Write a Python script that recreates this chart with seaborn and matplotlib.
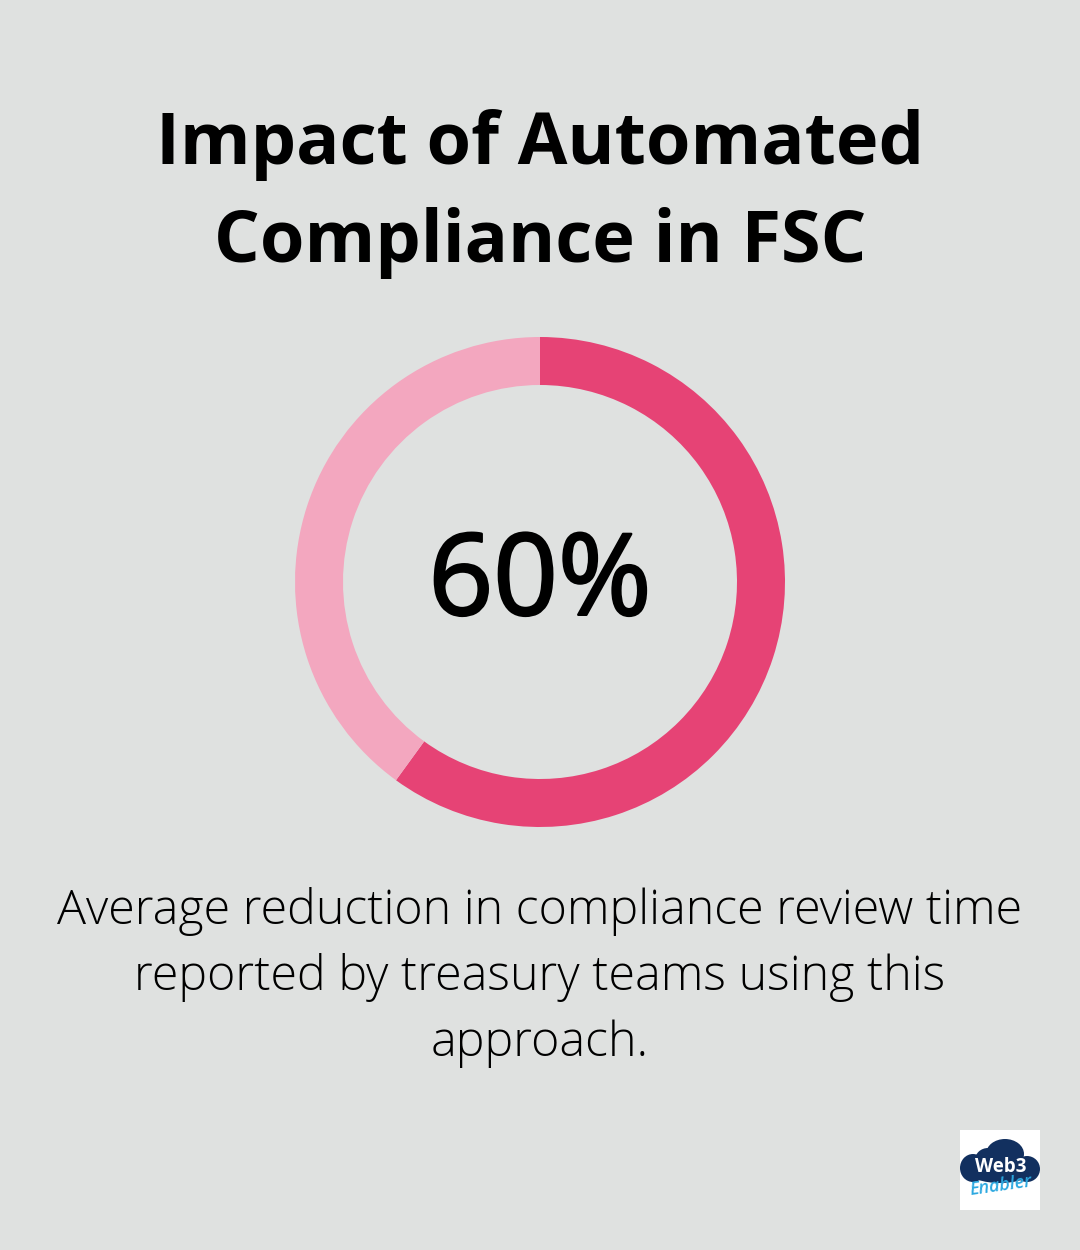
import seaborn as sns
import matplotlib.pyplot as plt
import matplotlib.patheffects as pe
from matplotlib.patches import Ellipse

# chart values
labels = ['Reduction', 'Rest']
values = [60, 40]
title_lines = ['Impact of Automated', 'Compliance in FSC']
big_label = '60%'
caption_lines = ['Average reduction in compliance review time',
                 'reported by treasury teams using this',
                 'approach.']

bg = '#dfe1e0'
colors = ['#e64375', '#f3a7bf']

sns.set_theme(style='white')
plt.rcParams['font.family'] = ['Open Sans', 'DejaVu Sans']

W, H = 1080, 1250
fig = plt.figure(figsize=(W / 100, H / 100), dpi=100, facecolor=bg)

# donut, 490 px wide centred at 540,582
ax = fig.add_axes([295 / W, 1 - 827 / H, 490 / W, 490 / H])
ax.pie(values, colors=colors, startangle=90, counterclock=False, radius=1,
       wedgeprops=dict(width=48 / 245, linewidth=0))
ax.set_xlim(-1, 1)
ax.set_ylim(-1, 1)
ax.set_aspect('equal')
ax.axis('off')


def put(x, y, s, **kw):
    return fig.text(x / W, 1 - y / H, s, ha='center', va='center', **kw)


for y, line in zip([145, 243], title_lines):
    put(540, y, line, fontsize=51.8, fontweight='bold', color='black')

# no medium weight installed, so thicken the regular one a little
big = put(540, 585, big_label, fontsize=81.5, color='black')
big.set_path_effects([pe.withStroke(linewidth=1.8, foreground='black')])

for y, line in zip([912, 978, 1044], caption_lines):
    put(540, y, line, fontsize=34.8, fontweight='light', color='black')

# logo box
logo = fig.add_axes([960 / W, 1 - 1210 / H, 80 / W, 80 / H])
logo.set_xlim(0, 80)
logo.set_ylim(80, 0)
logo.axis('off')
logo.add_patch(plt.Rectangle((0, 0), 80, 80, color='white', lw=0))
navy = '#12305f'
for cx, cy, w, h in [(45, 24, 38, 30), (13, 38, 26, 28), (67, 39, 26, 26),
                     (28, 30, 26, 24), (40, 42, 62, 22)]:
    logo.add_patch(Ellipse((cx, cy), w, h, color=navy, lw=0))
logo.text(41, 37, 'Web3', color='white', fontsize=13.5, fontweight='bold',
          ha='center', va='center')
logo.text(41, 56, 'Enabler', color='#2ba8e0', fontsize=13, style='italic',
          fontweight='semibold', rotation=8, ha='center', va='center')

fig.savefig('out.png', dpi=100, facecolor=bg)
